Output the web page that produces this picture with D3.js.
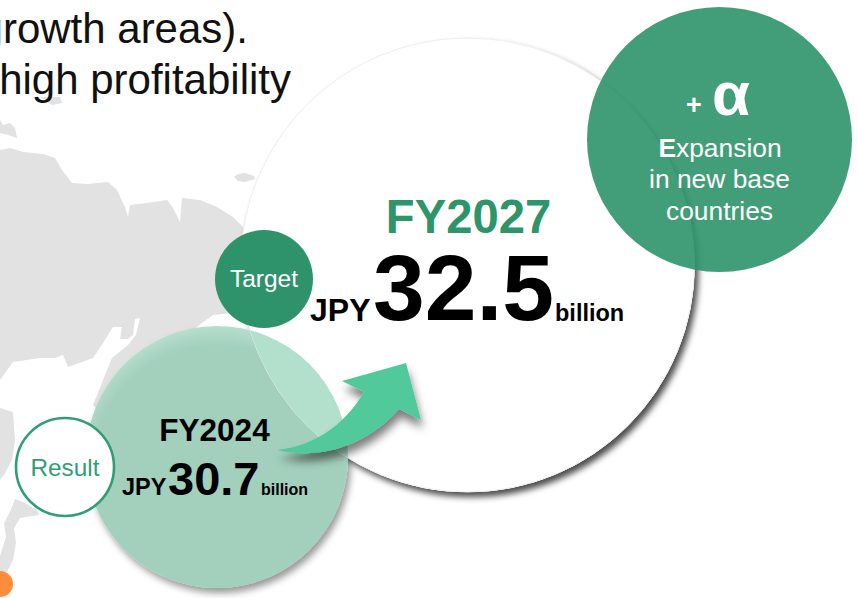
<!DOCTYPE html>
<html>
<head>
<meta charset="utf-8">
<script src="https://cdn.jsdelivr.net/npm/d3@7"></script>
<style>
  html, body { margin: 0; padding: 0; background: #fff; overflow: hidden; }
  text { font-family: "Liberation Sans", Arial, sans-serif; }
</style>
</head>
<body>
<div class="Bubbles"></div>
<script>
// Values
const fiscalYears = ["FY2024", "FY2027"];
const amounts = [30.7, 32.5];
const badges = ["Result", "Target"];
const headline = ["(growth areas).", "high profitability"];
const expansionLines = ["xpansion", "in new base", "countries"];

// Background map outlines (decoration only)
const mainland = [[0,150],[10,148],[23,152],[43,154],[55,158],[62,170],[72,183],[87,184],[108,182],[117,190],[125,207],[128,217],[130,205],[147,203],[167,200],[173,208],[180,222],[182,198],[200,200],[217,207],[233,217],[243,227],[262,260],[255,310],[233,313],[213,315],[202,323],[175,345],[150,380],[125,400],[100,412],[93,405],[103,380],[112,358],[128,345],[136,335],[140,318],[135,319],[133,335],[128,339],[120,339],[122,327],[113,327],[105,340],[93,358],[68,367],[63,355],[55,358],[40,358],[13,362],[0,380]];
const islands = [
  [[234,177],[238,174],[245,173],[254,176],[255,179],[245,182],[238,181]],
  [[40,97],[60,97],[62,103],[52,105]],
  [[0,120],[3,125],[10,123],[15,128],[17,138],[8,135],[0,133]],
  [[0,408],[13,412],[15,440],[12,460],[5,473],[0,480]],
  [[15,499],[23,502],[37,510],[39,515],[20,518],[14,528],[16,543],[13,560],[7,572],[0,575],[0,556],[6,537],[4,523],[10,512]]
];

const width = 858, height = 598;

const svg = d3.select(".Bubbles")
  .append("svg")
  .attr("width", width)
  .attr("height", height)
  .style("display", "block");

const defs = svg.append("defs");

function shadow(id, dx, dy, blur, opacity) {
  const f = defs.append("filter").attr("id", id)
    .attr("x", "-20%").attr("y", "-20%").attr("width", "140%").attr("height", "140%");
  f.append("feDropShadow")
    .attr("dx", dx).attr("dy", dy).attr("stdDeviation", blur)
    .attr("flood-color", "#000").attr("flood-opacity", opacity);
}
shadow("bigShadow", 4, 5, 3, 0.7);
shadow("smallShadow", 3, 5, 3.5, 0.4);
shadow("arrowShadow", 2, 8, 4, 0.5);

// Circle positions per fiscal year
const cx = d3.scaleOrdinal(fiscalYears, [217, 467.5]);
const cy = d3.scaleOrdinal(fiscalYears, [457, 265]);
const r = d3.scaleOrdinal(fiscalYears, [131, 227]);
const [pastYear, targetYear] = fiscalYears;
const money = d3.format(".1f");

function yearCircle(year) {
  return svg.append("circle")
    .attr("cx", cx(year))
    .attr("cy", cy(year))
    .attr("r", r(year));
}

// Map
const outline = d3.line().curve(d3.curveLinearClosed);
svg.append("g")
  .attr("fill", "#e2e2e2")
  .selectAll("path")
  .data([mainland, ...islands])
  .join("path")
  .attr("d", outline);

svg.append("circle")
  .attr("cx", 0).attr("cy", 584).attr("r", 13)
  .attr("fill", "#fd8c3c");

// Headline, cut off by the left edge
svg.append("g")
  .attr("font-size", 42)
  .attr("fill", "#111")
  .attr("text-anchor", "end")
  .selectAll("text")
  .data(headline)
  .join("text")
  .attr("x", (d, i) => [248, 291][i])
  .attr("y", (d, i) => [43, 94][i])
  .text(d => d);

// Target circle shadow first, the result circle covers it
yearCircle(targetYear)
  .attr("fill", "#fff")
  .attr("filter", "url(#bigShadow)");

const rim = defs.append("radialGradient").attr("id", "rim")
  .attr("gradientUnits", "userSpaceOnUse")
  .attr("cx", 217).attr("cy", 472).attr("r", 147);
rim.append("stop").attr("offset", "0.86").attr("stop-color", "#a3cfbd");
rim.append("stop").attr("offset", "1").attr("stop-color", "#b6e0cf");

yearCircle(pastYear)
  .attr("fill", "url(#rim)")
  .attr("filter", "url(#smallShadow)");

// Target circle again without shadow, hides the result circle's shadow
yearCircle(targetYear)
  .attr("fill", "#fff")
  .attr("stroke", "#eeeeee");

// + alpha circle sits over the shadow, slightly see-through
svg.append("circle")
  .attr("cx", 719.5).attr("cy", 139.5).attr("r", 132.5)
  .attr("fill", "#2e9469").attr("fill-opacity", 0.9);

// Lighter lens where the two circles overlap
defs.append("clipPath").attr("id", "bigClip")
  .append("circle")
  .attr("cx", cx(targetYear)).attr("cy", cy(targetYear)).attr("r", r(targetYear));

yearCircle(pastYear)
  .attr("fill", "#b3dfcd")
  .attr("clip-path", "url(#bigClip)");

// Arrow
const arrow = d3.path();
arrow.moveTo(277, 450);
arrow.bezierCurveTo(310, 447, 343, 428, 364, 392);
arrow.lineTo(342, 381);
arrow.lineTo(406, 363);
arrow.lineTo(421, 420);
arrow.lineTo(399, 409);
arrow.bezierCurveTo(365, 447, 320, 460, 277, 450);
arrow.closePath();
svg.append("path")
  .attr("d", arrow.toString())
  .attr("fill", "#51c99b")
  .attr("filter", "url(#arrowShadow)");

// Badges
svg.append("circle")
  .attr("cx", 264).attr("cy", 279).attr("r", 49)
  .attr("fill", "#2e936a");
svg.append("text")
  .attr("x", 264).attr("y", 287)
  .attr("text-anchor", "middle")
  .attr("font-size", 24.5)
  .attr("fill", "#fff")
  .text(badges[1]);

svg.append("circle")
  .attr("cx", 65).attr("cy", 467).attr("r", 49)
  .attr("fill", "#fff")
  .attr("stroke", "#2f9e77")
  .attr("stroke-width", 2.6);
svg.append("text")
  .attr("x", 65).attr("y", 476)
  .attr("text-anchor", "middle")
  .attr("font-size", 24.3)
  .attr("fill", "#2f9e77")
  .text(badges[0]);

// Amount labels
function boldText(x, y, size, fill, str, anchor) {
  svg.append("text")
    .attr("x", x).attr("y", y)
    .attr("font-size", size)
    .attr("font-weight", 700)
    .attr("fill", fill)
    .attr("text-anchor", anchor || "start")
    .text(str);
}

boldText(468.5, 233, 47.2, "#2e9469", targetYear, "middle");
boldText(310, 321, 32, "#000", "JPY");
boldText(373, 320, 93, "#000", money(amounts[1]));
boldText(555, 321, 23.5, "#000", "billion");

boldText(214.5, 441, 31.5, "#000", pastYear, "middle");
boldText(122, 495, 23.5, "#000", "JPY");
boldText(168, 495, 47, "#000", money(amounts[0]));
boldText(261, 495, 16, "#000", "billion");

// + alpha block
boldText(686, 114, 27, "#fff", "+");
boldText(712, 115, 62, "#fff", "α");

const expansion = svg.append("text")
  .attr("x", 720).attr("y", 157)
  .attr("text-anchor", "middle")
  .attr("font-size", 26.4)
  .attr("fill", "#fff");
expansion.append("tspan").attr("font-weight", 700).text("E");
expansion.append("tspan").text(expansionLines[0]);

svg.append("g")
  .attr("font-size", 26.4)
  .attr("fill", "#fff")
  .attr("text-anchor", "middle")
  .selectAll("text")
  .data(expansionLines.slice(1))
  .join("text")
  .attr("x", 719.5)
  .attr("y", (d, i) => 188 + i * 32)
  .text(d => d);
</script>
</body>
</html>
